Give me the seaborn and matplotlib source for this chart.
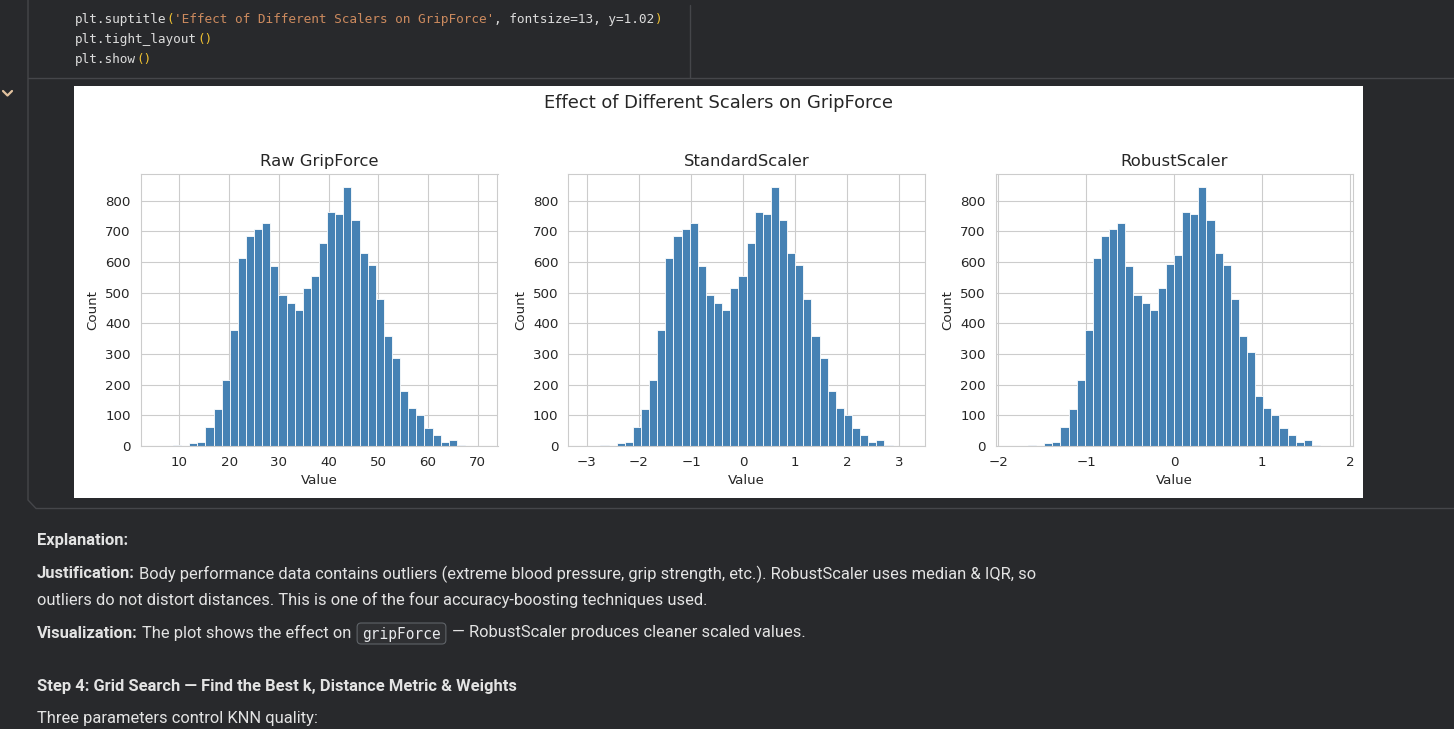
import matplotlib
matplotlib.use('Agg')
import matplotlib.pyplot as plt
import matplotlib.transforms as mtransforms
import numpy as np
import seaborn as sns
from matplotlib.lines import Line2D
from matplotlib.patches import FancyBboxPatch, Rectangle
from matplotlib.ticker import MultipleLocator

# bar heights (40 bins each)
raw_counts = [0, 0, 3, 0, 10, 13, 62, 121, 216, 379, 612, 684, 707, 727, 586, 491, 465, 445, 514, 553,
              661, 763, 758, 845, 737, 629, 589, 478, 360, 288, 180, 124, 101, 60, 36, 13, 20, 3, 0, 1]
standard_counts = [0, 0, 3, 0, 10, 13, 62, 121, 216, 379, 612, 684, 707, 727, 586, 491, 465, 445, 514, 553,
                   661, 763, 758, 845, 737, 629, 589, 478, 360, 288, 180, 124, 101, 60, 36, 13, 20, 3, 0, 1]
robust_counts = [0, 0, 3, 0, 10, 13, 62, 121, 216, 379, 612, 684, 707, 727, 586, 491, 465, 445, 514, 593,
                 622, 763, 758, 845, 737, 629, 589, 478, 360, 307, 164, 124, 101, 59, 36, 13, 20, 3, 0, 1]

# gripForce range and the scaler parameters
grip_min, grip_max = 5.43, 70.74
grip_mean, grip_std = 37.4, 10.48
grip_median, grip_iqr = 38.1, 17.7

titles = ['Raw GripForce', 'StandardScaler', 'RobustScaler']
tick_steps = [10, 1, 1]
ranges = [(grip_min, grip_max),
          ((grip_min - grip_mean) / grip_std, (grip_max - grip_mean) / grip_std),
          ((grip_min - grip_median) / grip_iqr, (grip_max - grip_median) / grip_iqr)]
counts = [raw_counts, standard_counts, robust_counts]

code_lines = [
    [('plt.suptitle', 'txt'), ('(', 'paren'), ("'Effect of Different Scalers on GripForce'", 'str'),
     (', fontsize=13, y=1.02', 'txt'), (')', 'paren')],
    [('plt.tight_layout', 'txt'), ('()', 'paren')],
    [('plt.show', 'txt'), ('()', 'paren')],
]

W, H = 1454, 729
BG = '#28292c'
FG = '#e3e3e3'
LINE = '#45464a'
CODE_COLORS = {'txt': '#dcdcdc', 'paren': '#f1c232', 'str': '#cc8a5e'}

sns.set_style('whitegrid')
plt.rcParams.update({'xtick.labelsize': 9.6, 'ytick.labelsize': 9.6, 'axes.labelsize': 9.6,
                     'axes.titlesize': 11.8})

fig = plt.figure(figsize=(W / 100, H / 100), dpi=100, facecolor=BG)
px = mtransforms.IdentityTransform()


def fx(x):
    return x / W


def fy(y):
    return 1 - y / H


# white area of the chart image
fig.patches.append(Rectangle((fx(74), fy(498)), (1363 - 74) / W, (498 - 86) / H,
                             transform=fig.transFigure, facecolor='white', edgecolor='none', zorder=-1))

lefts = [140.5, 568.0, 995.5]
for ax_left, (lo, hi), cnt, title, step in zip(lefts, ranges, counts, titles, tick_steps):
    ax = fig.add_axes([fx(ax_left), fy(446), 357 / W, (446 - 174) / H])
    edges = np.linspace(lo, hi, len(cnt) + 1)
    centers = (edges[:-1] + edges[1:]) / 2
    sns.histplot(x=centers, weights=cnt, bins=edges.tolist(), color='steelblue', alpha=1, ax=ax)
    ax.xaxis.set_major_locator(MultipleLocator(step))
    ax.set(title=title, xlabel='Value', ylabel='Count')

fig.text(fx(718.5), fy(103), 'Effect of Different Scalers on GripForce', fontsize=12.9,
         ha='center', va='center', color='#262626')

renderer = fig.canvas.get_renderer()


def draw_runs(x, y, runs, size, family, measure=False):
    start = x
    for s, color, weight, gap in runs:
        t = fig.text(fx(x), fy(y), s, fontsize=size, color=color, fontweight=weight,
                     family=family, ha='left', va='center')
        x += t.get_window_extent(renderer).width + gap
        if measure:
            t.remove()
    return x - start


# code cell
for i, line in enumerate(code_lines):
    runs = [(s, CODE_COLORS[kind], 'normal', 0) for s, kind in line]
    draw_runs(75, 20 + i * 19.5, runs, 9.2, 'DejaVu Sans Mono')

# notebook frame lines
fig.add_artist(Line2D([28, 28, 36, W], [H - 0, H - 500, H - 508.5, H - 508.5], transform=px, color=LINE, lw=1))
fig.add_artist(Line2D([28, W], [H - 78, H - 78], transform=px, color=LINE, lw=1))
fig.add_artist(Line2D([690, 690], [H - 5, H - 78], transform=px, color=LINE, lw=1))
fig.add_artist(Line2D([3, 7.5, 12], [H - 91, H - 95.5, H - 91], transform=px, color='#e2c29f', lw=1.6))

# explanation text
SANS = 'Roboto'
line1 = [('Justification:', FG, 'bold', 4),
         ('Body performance data contains outliers (extreme blood pressure, grip strength, etc.). '
          'RobustScaler uses median & IQR, so', FG, 'normal', 0)]
trial = draw_runs(37, 574, line1, 11, SANS, measure=True)
size = 11 * (1032 - 37) / trial

draw_runs(37, 540, [('Explanation:', FG, 'bold', 0)], size, SANS)
draw_runs(37, 574, line1, size, SANS)
draw_runs(37, 600, [('outliers do not distort distances. This is one of the four accuracy-boosting techniques used.',
                     FG, 'normal', 0)], size, SANS)
x_chip = 37 + draw_runs(37, 633, [('Visualization:', FG, 'bold', 4),
                                  ('The plot shows the effect on', FG, 'normal', 6)], size, SANS)
chip_w = draw_runs(x_chip + 5, 634, [('gripForce', '#e8eaed', 'normal', 0)], size * 0.88, 'DejaVu Sans Mono')
fig.patches.append(FancyBboxPatch((x_chip, H - 644), chip_w + 10, 21, boxstyle='round,pad=0,rounding_size=4',
                                  transform=px, facecolor='#2f3033', edgecolor='#5f6368', lw=0.8, zorder=-1))
draw_runs(x_chip + chip_w + 16, 633, [('\u2014 RobustScaler produces cleaner scaled values.', FG, 'normal', 0)],
          size, SANS)
draw_runs(37, 687, [('Step 4: Grid Search \u2014 Find the Best k, Distance Metric & Weights', FG, 'bold', 0)],
          size, SANS)
draw_runs(37, 719, [('Three parameters control KNN quality:', FG, 'normal', 0)], size, SANS)

fig.savefig('out.png', dpi=100, facecolor=BG)
